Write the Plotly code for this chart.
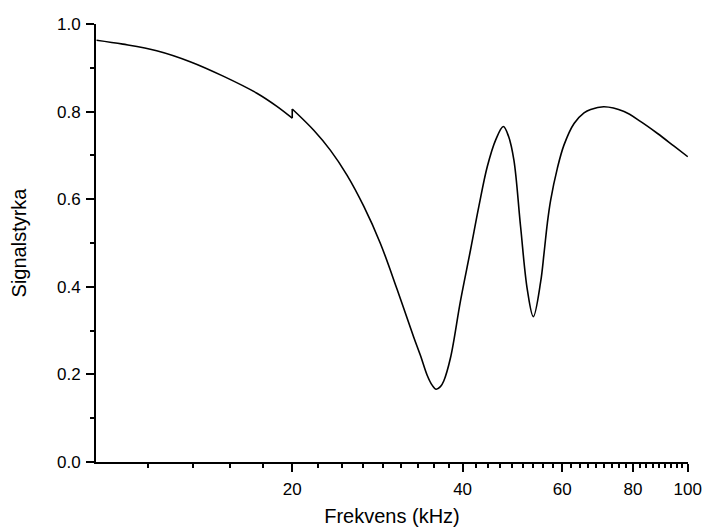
import plotly.graph_objects as go
import numpy as np

# --- data (frequency in kHz, signal strength) ---
freq_low = [9.02, 10.04, 11.52, 13.20, 15.10, 17.32, 18.79, 20.0]
signal_low = [0.963, 0.954, 0.939, 0.914, 0.881, 0.842, 0.812, 0.785]

freq_high = [20.0, 21.81, 23.35, 24.99, 26.75, 28.63, 30.63, 32.79, 33.70, 34.63,
             35.31, 35.92, 36.55, 37.05, 38.08, 39.66, 41.31, 42.73, 44.22, 45.75,
             47.21, 48.24, 49.29, 50.65, 52.06, 53.34, 54.95, 55.72, 56.47, 57.24,
             58.83, 60.44, 62.96, 65.56, 67.36, 71.13, 77.17, 82.59, 88.42, 94.59,
             100.0]
signal_high = [0.806, 0.758, 0.712, 0.655, 0.584, 0.499, 0.395, 0.285, 0.243, 0.198,
               0.176, 0.166, 0.172, 0.185, 0.238, 0.368, 0.484, 0.583, 0.674, 0.735,
               0.766, 0.743, 0.689, 0.537, 0.393, 0.332, 0.411, 0.477, 0.545, 0.598,
               0.671, 0.724, 0.773, 0.797, 0.805, 0.811, 0.800, 0.777, 0.750, 0.721,
               0.697]

x_major = [20, 40, 60, 80, 100]
x_major_labels = ["20", "40", "60", "80", "100"]
x_minor_step = 20 / 9
y_major = [0.0, 0.2, 0.4, 0.6, 0.8, 1.0]
y_minor = [0.1, 0.3, 0.5, 0.7, 0.9]

x_minor = [round(20 + k * x_minor_step, 4) for k in range(-4, 37)]
x_minor = [v for v in x_minor if all(abs(v - m) > 0.01 for m in x_major) and v <= 100]

font_family = "Liberation Sans, Arial, sans-serif"
line_style = dict(color="black", width=1.6)

fig = go.Figure()
fig.add_trace(go.Scatter(x=freq_low, y=signal_low, mode="lines",
                         line=dict(**line_style, shape="spline", smoothing=1.0),
                         showlegend=False, hoverinfo="skip", cliponaxis=False))
fig.add_trace(go.Scatter(x=[freq_low[-1], freq_high[0]], y=[signal_low[-1], signal_high[0]],
                         mode="lines", line=dict(**line_style), showlegend=False, hoverinfo="skip"))
fig.add_trace(go.Scatter(x=freq_high, y=signal_high, mode="lines",
                         line=dict(**line_style, shape="spline", smoothing=1.0),
                         showlegend=False, hoverinfo="skip", cliponaxis=False))

fig.update_layout(
    width=702, height=527,
    margin=dict(l=96, r=14, t=24, b=65),
    paper_bgcolor="white", plot_bgcolor="white",
    font=dict(family=font_family, color="black", size=17),
    xaxis=dict(
        type="log", range=[np.log10(9.0), 2.0004], automargin=False,
        tickmode="array", tickvals=x_major, ticktext=x_major_labels,
        ticks="outside", ticklen=8, tickwidth=1.5, tickcolor="black",
        showline=True, linecolor="black", linewidth=2, mirror=False,
        showgrid=False, zeroline=False, ticklabeloverflow="allow",
        tickfont=dict(size=17), ticklabelstandoff=3,
        minor=dict(tickmode="array", tickvals=x_minor, ticks="outside",
                   ticklen=4, tickwidth=1.5, tickcolor="black", showgrid=False),
        title=dict(text="Frekvens (kHz)", font=dict(size=20), standoff=14),
    ),
    yaxis=dict(
        range=[0, 1.0], automargin=False,
        tickmode="array", tickvals=y_major, tickformat=".1f",
        ticks="outside", ticklen=8, tickwidth=1.5, tickcolor="black",
        showline=True, linecolor="black", linewidth=2, mirror=False,
        showgrid=False, zeroline=False,
        tickfont=dict(size=17), ticklabelstandoff=2,
        minor=dict(tickmode="array", tickvals=y_minor, ticks="outside",
                   ticklen=4, tickwidth=1.5, tickcolor="black", showgrid=False),
        title=dict(text="Signalstyrka", font=dict(size=20), standoff=25),
    ),
)

fig.write_html("out.html")
